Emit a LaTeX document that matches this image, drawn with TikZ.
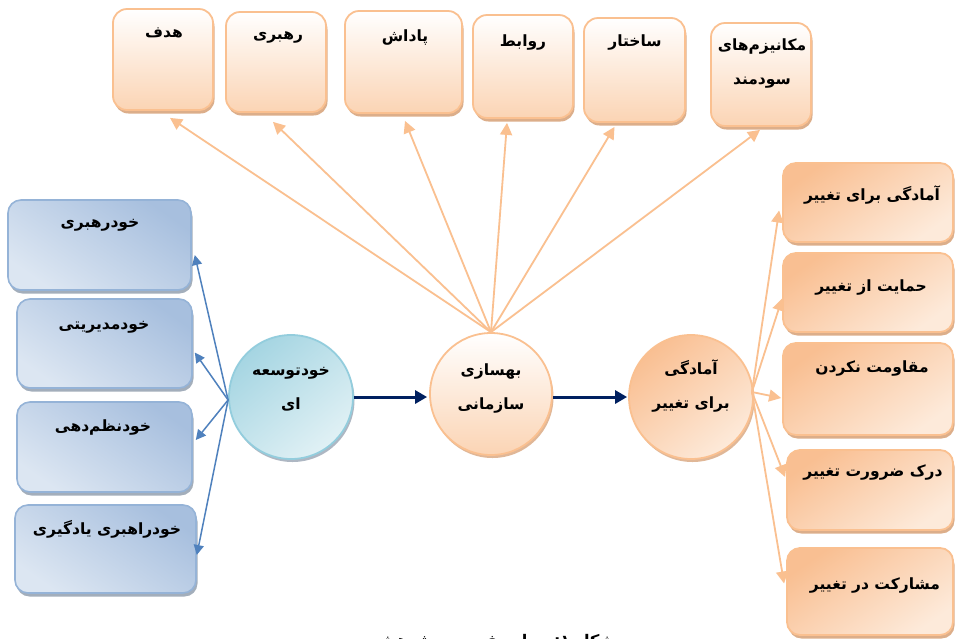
\documentclass[tikz,border=0pt]{standalone}
\usepackage{fontspec}
\newfontfamily\farsi[Script=Arabic]{DejaVu Sans}
\TeXXeTstate=1
\usetikzlibrary{shadows,arrows.meta,calc}
\newcommand{\pe}[1]{\beginR #1\endR}
\definecolor{orB}{HTML}{FAC090}
\definecolor{peach}{HTML}{FBD4B4}
\definecolor{peachD}{HTML}{F9BF92}
\definecolor{peachL}{HTML}{FDEADA}
\definecolor{blB}{HTML}{95B3D7}
\definecolor{blD}{HTML}{A7BFDE}
\definecolor{blL}{HTML}{DCE6F2}
\definecolor{cyB}{HTML}{93CDDD}
\definecolor{cyD}{HTML}{A5D5E2}
\definecolor{cyL}{HTML}{E1F1F5}
\definecolor{navy}{HTML}{002060}
\definecolor{arrB}{HTML}{4F81BD}
\definecolor{shO}{HTML}{D9A67E}
\definecolor{shB}{HTML}{9AA6B4}
\tikzset{
  lbl/.style={font=\farsi\bfseries\fontsize{15.5}{34}\selectfont, align=center, inner sep=0pt, text=black},
  capt/.style={font=\farsi\bfseries\fontsize{16}{18}\selectfont, inner sep=0pt, anchor=base},
  topbox/.style={draw=orB, line width=1.8pt, rounded corners=14pt, inner sep=0pt,
    top color=white, bottom color=peach,
    drop shadow={shadow xshift=1.5pt, shadow yshift=-3.5pt, fill=shO, opacity=0.9}},
  rightbox/.style={draw=orB, line width=1.8pt, rounded corners=13pt, inner sep=0pt,
    top color=peachD, bottom color=peachL, shading angle=35,
    drop shadow={shadow xshift=1.5pt, shadow yshift=-3.5pt, fill=shO, opacity=0.9}},
  leftbox/.style={draw=blB, line width=1.6pt, rounded corners=13pt, inner sep=0pt,
    top color=blD, bottom color=blL, shading angle=-35,
    drop shadow={shadow xshift=1.5pt, shadow yshift=-3.5pt, fill=shB, opacity=0.9}},
  cycirc/.style={circle, draw=cyB, line width=1.8pt, inner sep=0pt, minimum size=124pt,
    top color=cyD, bottom color=cyL, shading angle=40,
    drop shadow={shadow xshift=1.5pt, shadow yshift=-3pt, fill=shB, opacity=0.8}},
  pacirc/.style={circle, draw=orB, line width=1.8pt, inner sep=0pt, minimum size=122pt,
    top color=white, bottom color=peach,
    drop shadow={shadow xshift=1.5pt, shadow yshift=-3pt, fill=shO, opacity=0.8}},
  orcirc/.style={circle, draw=orB, line width=1.8pt, inner sep=0pt, minimum size=124pt,
    top color=peachD, bottom color=peachL, shading angle=40,
    drop shadow={shadow xshift=1.5pt, shadow yshift=-3pt, fill=shO, opacity=0.8}},
  oarr/.style={draw=orB, line width=1.8pt, -{Triangle[length=12pt,width=12pt]}},
  barr/.style={draw=arrB, line width=1.5pt, -{Triangle[length=10pt,width=10pt]}},
  narr/.style={draw=navy, line width=3pt, -{Triangle[length=12pt,width=13pt]}},
}
\begin{document}
\begin{tikzpicture}[x=1pt,y=-1pt]
\useasboundingbox (0,0) rectangle (955,638);
\clip (0,0) rectangle (955,638);
\fill[white] (0,0) rectangle (955,638);

% top boxes
\node[topbox, minimum width=100pt, minimum height=101pt] (hadaf) at (163,59.5) {};
\node[topbox, minimum width=100pt, minimum height=100pt] (rahbari) at (276,62) {};
\node[topbox, minimum width=117pt, minimum height=102pt] (padash) at (403.5,62) {};
\node[topbox, minimum width=100pt, minimum height=103pt] (ravabet) at (523,66.5) {};
\node[topbox, minimum width=101pt, minimum height=104pt] (sakhtar) at (634.5,70) {};
\node[topbox, minimum width=100pt, minimum height=103pt] (mekan) at (761,74.5) {};

\node[lbl] (thadaf) at (164,33) {\pe{هدف}};
\node[lbl] (trahbari) at (278,37) {\pe{رهبری}};
\node[lbl] (tpadash) at (405,37) {\pe{پاداش}};
\node[lbl] (travabet) at (523,42) {\pe{روابط}};
\node[lbl] (tsakhtar) at (635,42) {\pe{ساختار}};
\node[lbl] (tmekan) at (762,63.5) {\pe{مکانیزم‌های}\\\pe{سودمند}};

% left boxes
\node[leftbox, minimum width=183pt, minimum height=90pt] (l1) at (99.5,245) {};
\node[leftbox, minimum width=175pt, minimum height=89pt] (l2) at (104.5,343.5) {};
\node[leftbox, minimum width=175pt, minimum height=90pt] (l3) at (104.5,447) {};
\node[leftbox, minimum width=181pt, minimum height=88pt] (l4) at (105.5,549) {};

\node[lbl] (tl1) at (100,225) {\pe{خودرهبری}};
\node[lbl] (tl2) at (104,327) {\pe{خودمدیریتی}};
\node[lbl] (tl3) at (103,427) {\pe{خودنظم‌دهی}};
\node[lbl] (tl4) at (107,529) {\pe{خودراهبری یادگیری}};

% right boxes
\node[rightbox, minimum width=170pt, minimum height=79pt] (r1) at (868,202.5) {};
\node[rightbox, minimum width=170pt, minimum height=79pt] (r2) at (868,292.5) {};
\node[rightbox, minimum width=170pt, minimum height=92pt] (r3) at (868,389) {};
\node[rightbox, minimum width=166pt, minimum height=80pt] (r4) at (870,490) {};
\node[rightbox, minimum width=166pt, minimum height=87pt] (r5) at (870,591.5) {};

\node[lbl] (tr1) at (872,195) {\pe{آمادگی برای تغییر}};
\node[lbl] (tr2) at (871,287) {\pe{حمایت از تغییر}};
\node[lbl] (tr3) at (872,368) {\pe{مقاومت نکردن}};
\node[lbl] (tr4) at (873,472) {\pe{درک ضرورت تغییر}};
\node[lbl] (tr5) at (875,585) {\pe{مشارکت در تغییر}};

% circles
\node[cycirc] (khod) at (291,397) {};
\node[pacirc] (beh) at (491,394) {};
\node[orcirc] (am) at (691,397) {};

\node[lbl] (tkhod) at (291,389) {\pe{خودتوسعه}\\\pe{ای}};
\node[lbl] (tbeh) at (491,388.5) {\pe{بهسازی}\\\pe{سازمانی}};
\node[lbl] (tam) at (691,386) {\pe{آمادگی}\\\pe{برای تغییر}};

% navy arrows
\draw[narr] (khod.east) -- ([xshift=-2pt,yshift=-3pt]beh.west);
\draw[narr] (beh.east |- khod.east) -- ([xshift=-1pt]am.west);

% orange arrows from beh to top boxes
\draw[oarr] (beh.north) -- ([xshift=7pt,yshift=-7pt]hadaf.south);
\draw[oarr] (beh.north) -- ([xshift=-3pt,yshift=-9pt]rahbari.south);
\draw[oarr] (beh.north) -- ([xshift=1.5pt,yshift=-7pt]padash.south);
\draw[oarr] (beh.north) -- ([xshift=-16pt,yshift=-4pt]ravabet.south);
\draw[oarr] (beh.north) -- ([xshift=-20pt,yshift=-4pt]sakhtar.south);
\draw[oarr] (beh.north) -- ([xshift=-1pt,yshift=-3pt]mekan.south);

% blue arrows from khod to left boxes
\draw[barr] ([yshift=-3pt]khod.west) -- ([xshift=3pt,yshift=-10pt]l1.east);
\draw[barr] ([yshift=-3pt]khod.west) -- ([xshift=2pt,yshift=-9pt]l2.east);
\draw[barr] ([yshift=-3pt]khod.west) -- ([xshift=3pt,yshift=7pt]l3.east);
\draw[barr] ([yshift=-3pt]khod.west) -- ([xshift=0pt,yshift=-6pt]l4.east);

% orange arrows from am to right boxes
\draw[oarr] ([xshift=-2pt,yshift=5pt]am.east) -- ([xshift=-3pt,yshift=-8pt]r1.west);
\draw[oarr] ([xshift=-2pt,yshift=5pt]am.east) -- ([xshift=0pt,yshift=-6pt]r2.west);
\draw[oarr] ([xshift=-2pt,yshift=5pt]am.east) -- ([xshift=-1pt,yshift=-9pt]r3.west);
\draw[oarr] ([xshift=-2pt,yshift=5pt]am.east) -- ([xshift=-1pt,yshift=13pt]r4.west);
\draw[oarr] ([xshift=-2pt,yshift=5pt]am.east) -- ([xshift=-2pt,yshift=8pt]r5.west);

% caption (cut off at the bottom edge, as in the reference)
\node[capt] (cap) at (495,646) {\pe{شکل ۱: مدل مفهومی پژوهش}};
\end{tikzpicture}
\end{document}
